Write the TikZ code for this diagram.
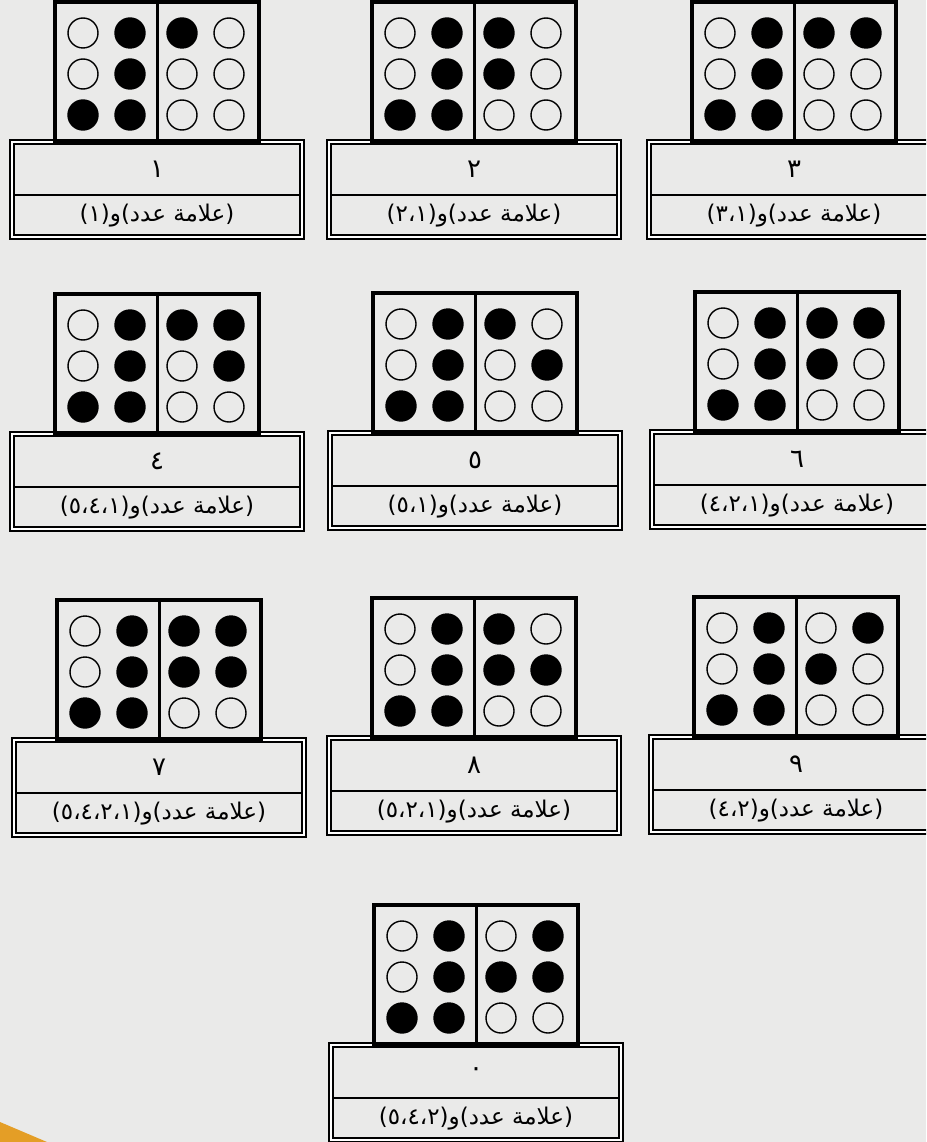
\documentclass[tikz,border=0pt]{standalone}
\usepackage{fontspec}
\newfontfamily\arabicfont[Script=Arabic]{DejaVu Sans}
\TeXXeTstate=1
\usetikzlibrary{positioning,calc}
\definecolor{paper}{RGB}{234,234,233}
\definecolor{bookorange}{RGB}{228,158,38}

\tikzset{
  dotcell/.style={draw,line width=4pt,minimum width=204pt,minimum height=140pt,inner sep=0pt,outer sep=0pt},
  labelbox/.style={draw,double=white,double distance=2.5pt,line width=1.3pt,minimum width=290pt,minimum height=95pt,inner sep=0pt,outer sep=0pt},
  brdot/.style={circle,draw,line width=1.4pt,minimum size=30pt,inner sep=0pt},
  arabtext/.style={font=\arabicfont\fontsize{23}{27}\selectfont,inner sep=0pt},
  digittext/.style={font=\arabicfont\fontsize{26}{30}\selectfont,inner sep=0pt},
}

% arabic comma between two dot numbers, kept as separate glyph runs
\newcommand{\ac}{\kern0pt،\kern0pt}

% #1 name, #2 top left corner, #3 right half dots, #4 digit, #5 dot numbers
\newcommand{\braillecell}[5]{%
  \node[labelbox,anchor=north] (#1lab) at ($(#2)+(102,140)$) {};
  \node[dotcell,above=0pt of #1lab] (#1) {};
  \draw[line width=3pt] (#1.north) -- (#1.south);
  \draw[line width=1.3pt] ($(#1lab.north west)+(3,53)$) -- ($(#1lab.north east)+(-3,53)$);
  \foreach \f [count=\k] in {0,0,1,1,1,1} {
    \pgfmathtruncatemacro\dcol{(\k-1)/3}
    \pgfmathtruncatemacro\drow{\k-1-3*\dcol}
    \ifnum\f=1 \def\dotfill{black}\else\def\dotfill{none}\fi
    \node[brdot,fill=\dotfill] (#1l\k) at ($(#1.north west)+(28+47*\dcol,31+41*\drow)$) {};
  }
  \foreach \f [count=\k] in {#3} {
    \pgfmathtruncatemacro\dcol{(\k-1)/3}
    \pgfmathtruncatemacro\drow{\k-1-3*\dcol}
    \ifnum\f=1 \def\dotfill{black}\else\def\dotfill{none}\fi
    \node[brdot,fill=\dotfill] (#1r\k) at ($(#1.north west)+(127+47*\dcol,31+41*\drow)$) {};
  }
  \node[digittext] (#1num) at ($(#1lab.north)+(0,27)$) {\beginR#4\endR};
  \node[arabtext] (#1txt) at ($(#1lab.north)+(0,74)$) {\beginR(علامة\ عدد)و#5\endR};
}

\begin{document}
\begin{tikzpicture}[x=1pt,y=-1pt]
\useasboundingbox (0,0) rectangle (926,1142);
\clip (0,0) rectangle (926,1142);
\fill[paper] (0,0) rectangle (926,1142);
\fill[bookorange] (0,1122) -- (47,1142) -- (0,1142) -- cycle;

\braillecell{one}{55,2}{1,0,0,0,0,0}{١}{(١)}
\braillecell{two}{372,2}{1,1,0,0,0,0}{٢}{(١\ac٢)}
\braillecell{three}{692,2}{1,0,0,1,0,0}{٣}{(١\ac٣)}

\braillecell{four}{55,294}{1,0,0,1,1,0}{٤}{(١\ac٤\ac٥)}
\braillecell{five}{373,293}{1,0,0,0,1,0}{٥}{(١\ac٥)}
\braillecell{six}{695,292}{1,1,0,1,0,0}{٦}{(١\ac٢\ac٤)}

\braillecell{seven}{57,600}{1,1,0,1,1,0}{٧}{(١\ac٢\ac٤\ac٥)}
\braillecell{eight}{372,598}{1,1,0,0,1,0}{٨}{(١\ac٢\ac٥)}
\braillecell{nine}{694,597}{0,1,0,1,0,0}{٩}{(٢\ac٤)}

\braillecell{zero}{374,905}{0,1,0,1,1,0}{٠}{(٢\ac٤\ac٥)}
\end{tikzpicture}
\end{document}
